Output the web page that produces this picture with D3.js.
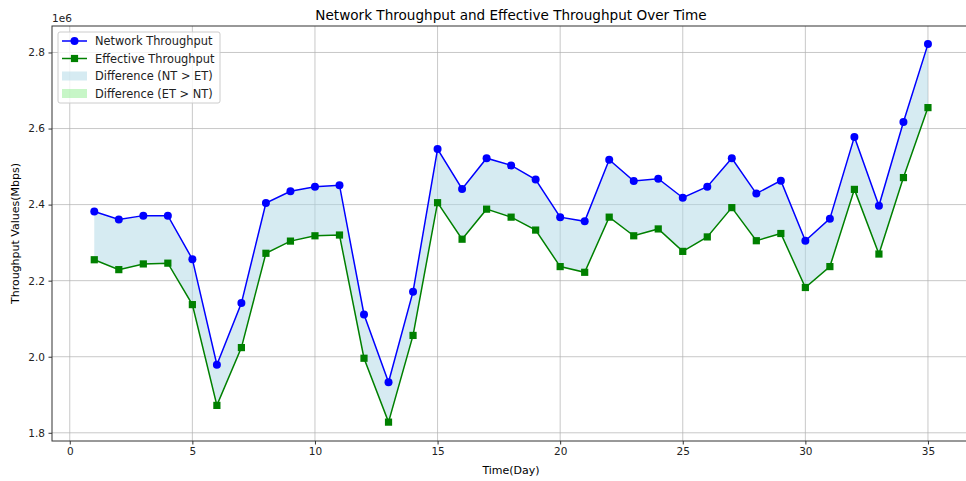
<!DOCTYPE html>
<html>
<head>
<meta charset="utf-8">
<script src="https://cdn.jsdelivr.net/npm/d3@7"></script>
<style>
html,body{margin:0;padding:0;background:#fff;}
svg{display:block;font-family:"DejaVu Sans",sans-serif;}
</style>
</head>
<body>
<svg id="chart" width="966" height="481"></svg>
<script>
const days = d3.range(1, 36);
const networkThroughput = [2.382,2.361,2.371,2.371,2.2565,1.979,2.141,2.404,2.435,2.447,
  2.451,2.111,1.933,2.171,2.546,2.441,2.522,2.503,2.466,2.367,
  2.356,2.518,2.462,2.468,2.418,2.447,2.522,2.429,2.463,2.305,
  2.363,2.578,2.397,2.617,2.822].map(v => v * 1e6);
const effectiveThroughput = [2.255,2.229,2.244,2.246,2.137,1.872,2.024,2.272,2.304,2.318,
  2.320,1.996,1.828,2.056,2.405,2.309,2.388,2.367,2.333,2.237,
  2.222,2.367,2.318,2.336,2.277,2.315,2.392,2.305,2.324,2.182,
  2.237,2.440,2.270,2.471,2.655].map(v => v * 1e6);
const xTicks = [0,5,10,15,20,25,30,35];
const yTicks = [1.8e6,2.0e6,2.2e6,2.4e6,2.6e6,2.8e6];
const legendLabels = ["Network Throughput","Effective Throughput","Difference (NT > ET)","Difference (ET > NT)"];

const svg = d3.select("#chart");
const mLeft = 52, mTop = 26, mBottom = 441;
const x = d3.scaleLinear().domain([-0.7, 36.7]).range([52.6, 52.6 + 37.4 * 24.52]);
const y = d3.scaleLinear().domain([1.7784e6, 2.8696e6]).range([mBottom, mTop]);
const mRight = x.range()[1];

const data = days.map((d,i) => ({d, nt: networkThroughput[i], et: effectiveThroughput[i]}));

svg.append("clipPath").attr("id","clip").append("rect")
  .attr("x", mLeft).attr("y", mTop).attr("width", mRight-mLeft).attr("height", mBottom-mTop);

const g = svg.append("g");
g.append("g").selectAll("line").data(xTicks).join("line")
  .attr("x1", d=>x(d)).attr("x2", d=>x(d)).attr("y1", mTop).attr("y2", mBottom)
  .attr("stroke","#b0b0b0").attr("stroke-opacity",0.7).attr("stroke-width",1);
g.append("g").selectAll("line").data(yTicks).join("line")
  .attr("y1", d=>y(d)).attr("y2", d=>y(d)).attr("x1", mLeft).attr("x2", mRight)
  .attr("stroke","#b0b0b0").attr("stroke-opacity",0.7).attr("stroke-width",1);

const plot = svg.append("g").attr("clip-path","url(#clip)");

const areaNT = d3.area().x(d=>x(d.d)).y0(d=>y(d.et)).y1(d=>y(d.nt));
plot.append("path").datum(data).attr("d", areaNT)
  .attr("fill","#add8e6").attr("fill-opacity",0.5);

const lineNT = d3.line().x(d=>x(d.d)).y(d=>y(d.nt));
const lineET = d3.line().x(d=>x(d.d)).y(d=>y(d.et));
plot.append("path").datum(data).attr("d", lineNT).attr("fill","none").attr("stroke","#0000ff").attr("stroke-width",1.5);
plot.append("path").datum(data).attr("d", lineET).attr("fill","none").attr("stroke","#008000").attr("stroke-width",1.5);
plot.append("g").selectAll("circle").data(data).join("circle")
  .attr("cx", d=>x(d.d)).attr("cy", d=>y(d.nt)).attr("r",4).attr("fill","#0000ff");
plot.append("g").selectAll("rect").data(data).join("rect")
  .attr("x", d=>x(d.d)-3.6).attr("y", d=>y(d.et)-3.6).attr("width",7.2).attr("height",7.2).attr("fill","#008000");

const xAxis = svg.append("g").attr("transform",`translate(0,${mBottom})`)
  .call(d3.axisBottom(x).tickValues(xTicks).tickFormat(d3.format("d")).tickSize(3.5).tickPadding(3.5));
const yAxis = svg.append("g").attr("transform",`translate(${mLeft},0)`)
  .call(d3.axisLeft(y).tickValues(yTicks).tickFormat(d => (d/1e6).toFixed(1)).tickSize(3.5).tickPadding(3.5));
[xAxis,yAxis].forEach(a => {
  a.select(".domain").remove();
  a.selectAll("line").attr("stroke","#333");
  a.selectAll("text").attr("font-family","DejaVu Sans").attr("font-size",10.5).attr("fill","#222");
});
svg.append("rect").attr("x",mLeft).attr("y",mTop).attr("width",mRight-mLeft).attr("height",mBottom-mTop)
  .attr("fill","none").attr("stroke","#333").attr("stroke-width",1);

svg.append("text").attr("x", mLeft).attr("y", mTop-4).text("1e6")
  .attr("font-size",10.5).attr("fill","#222");

svg.append("text").attr("x", 511).attr("y", 19.5).attr("text-anchor","middle")
  .attr("font-size",13.6).attr("fill","#000").text("Network Throughput and Effective Throughput Over Time");
svg.append("text").attr("x", 511).attr("y", 474).attr("text-anchor","middle")
  .attr("font-size",11).attr("fill","#000").text("Time(Day)");
svg.append("text").attr("transform",`translate(19,${(mTop+mBottom)/2}) rotate(-90)`).attr("text-anchor","middle")
  .attr("font-size",11).attr("fill","#000").text("Throughput Values(Mbps)");

const lg = svg.append("g");
lg.append("rect").attr("x",58).attr("y",32).attr("width",162).attr("height",71).attr("rx",2)
  .attr("fill","#fff").attr("fill-opacity",0.8).attr("stroke","#ccc").attr("stroke-width",1);
const ly = [41, 58.5, 76, 93.5];
lg.append("line").attr("x1",62).attr("x2",87).attr("y1",ly[0]).attr("y2",ly[0]).attr("stroke","#0000ff").attr("stroke-width",1.5);
lg.append("circle").attr("cx",74.5).attr("cy",ly[0]).attr("r",4).attr("fill","#0000ff");
lg.append("line").attr("x1",62).attr("x2",87).attr("y1",ly[1]).attr("y2",ly[1]).attr("stroke","#008000").attr("stroke-width",1.5);
lg.append("rect").attr("x",74.5-3.6).attr("y",ly[1]-3.6).attr("width",7.2).attr("height",7.2).attr("fill","#008000");
lg.append("rect").attr("x",62).attr("y",ly[2]-4.5).attr("width",25).attr("height",9).attr("fill","#add8e6").attr("fill-opacity",0.5);
lg.append("rect").attr("x",62).attr("y",ly[3]-4.5).attr("width",25).attr("height",9).attr("fill","#90ee90").attr("fill-opacity",0.5);
lg.selectAll("text").data(legendLabels).join("text")
  .attr("x",95).attr("y",(d,i)=>ly[i]+4).attr("font-size",11.4).attr("fill","#222").text(d=>d);
</script>
</body>
</html>
